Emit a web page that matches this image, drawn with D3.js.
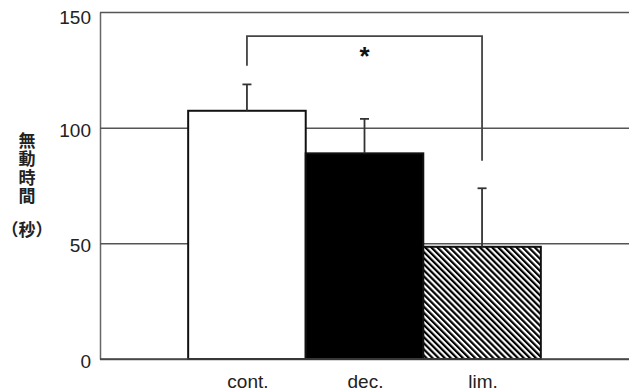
<!DOCTYPE html>
<html><head><meta charset="utf-8">
<script src="https://cdn.jsdelivr.net/npm/d3@7/dist/d3.min.js"></script>
<style>
html,body{margin:0;padding:0;background:#fff;}
svg{display:block;}
text{font-family:"Liberation Sans",Arial,sans-serif;}
</style></head>
<body>
<svg id="chart" width="629" height="391"></svg>
<script>
const categories = ["cont.", "dec.", "lim."];
const means = [107.3, 88.9, 48.5];
const errors = [11.4, 14.9, 25.3];
const yTicks = [0, 50, 100, 150];
const yTitle = "無動時間";
const yTitleUnit = "（秒）";
const bracket = {from: "cont.", to: "lim.", top: 139.6, leftEnd: 126.8, rightEnd: 85.7, label: "*"};

const svg = d3.select("#chart");
const margin = {left: 100, right: 0, top: 12, bottom: 32};
const W = 629, H = 391;

const x = d3.scaleBand().domain(categories).range([margin.left, W]).paddingInner(0).paddingOuter(0.75);
const y = d3.scaleLinear().domain([0, 150]).range([H - margin.bottom, margin.top]);

// hatch pattern
const defs = svg.append("defs");
const pat = defs.append("pattern").attr("id", "hatch").attr("patternUnits", "userSpaceOnUse")
  .attr("width", 4.3).attr("height", 10).attr("patternTransform", "rotate(-45)");
pat.append("rect").attr("width", 4.3).attr("height", 10).attr("fill", "#fff");
pat.append("line").attr("x1", 1.1).attr("x2", 1.1).attr("y1", 0).attr("y2", 10)
  .attr("stroke", "#000").attr("stroke-width", 2.2);

// axis + gridlines
const axis = d3.axisLeft(y).tickValues(yTicks).tickSizeInner(-(W - margin.left)).tickSizeOuter(0).tickPadding(9);
const g = svg.append("g").attr("transform", `translate(${margin.left},0)`).call(axis);
g.select(".domain").attr("stroke", "#666").attr("stroke-width", 1.5);
g.selectAll(".tick line").attr("stroke", "#555").attr("stroke-width", 1.5);
g.selectAll(".tick text").attr("font-size", 19).attr("fill", "#222")
  .attr("dy", d => d === 150 ? "0.62em" : "0.45em")
  .attr("font-family", "'Liberation Sans',Arial,sans-serif");

// bars
const fills = ["#fff", "#000", "url(#hatch)"];
svg.append("g").selectAll("rect").data(categories).join("rect")
  .attr("x", d => x(d))
  .attr("y", (d, i) => y(means[i]))
  .attr("width", x.bandwidth())
  .attr("height", (d, i) => y(0) - y(means[i]))
  .attr("fill", (d, i) => fills[i])
  .attr("stroke", "#111").attr("stroke-width", 2);

// baseline
svg.append("line").attr("x1", margin.left).attr("x2", W).attr("y1", y(0)).attr("y2", y(0))
  .attr("stroke", "#444").attr("stroke-width", 1.5);

// error bars
const eb = svg.append("g").attr("stroke", "#333").attr("stroke-width", 1.8);
categories.forEach((c, i) => {
  const cx = x(c) + x.bandwidth() / 2;
  eb.append("line").attr("x1", cx).attr("x2", cx).attr("y1", y(means[i])).attr("y2", y(means[i] + errors[i]));
  eb.append("line").attr("x1", cx - 4.5).attr("x2", cx + 4.5).attr("y1", y(means[i] + errors[i])).attr("y2", y(means[i] + errors[i]));
});

// significance bracket
const bx1 = x(bracket.from) + x.bandwidth() / 2;
const bx2 = x(bracket.to) + x.bandwidth() / 2;
svg.append("path")
  .attr("d", `M${bx1},${y(bracket.leftEnd)}V${y(bracket.top)}H${bx2}V${y(bracket.rightEnd)}`)
  .attr("fill", "none").attr("stroke", "#444").attr("stroke-width", 1.8);
svg.append("text").attr("x", (bx1 + bx2) / 2).attr("y", y(bracket.top) + 29)
  .attr("text-anchor", "middle").attr("font-size", 26).attr("font-weight", "bold").attr("fill", "#111")
  .text(bracket.label);

// x labels
svg.append("g").selectAll("text").data(categories).join("text")
  .attr("x", d => x(d) + x.bandwidth() / 2 + 1)
  .attr("y", 388)
  .attr("text-anchor", "middle").attr("font-size", 19).attr("fill", "#222")
  .text(d => d);

// y title (vertical)
svg.append("text")
  .attr("x", 27).attr("y", 132)
  .style("writing-mode", "vertical-rl")
  .style("font-family", "'Noto Sans CJK JP','Noto Sans CJK SC',sans-serif")
  .style("letter-spacing", "1.5px")
  .attr("font-weight", "bold").attr("font-size", 17).attr("fill", "#222")
  .text(yTitle);
svg.append("text").attr("x", 27).attr("y", 236).attr("text-anchor", "middle")
  .style("font-family", "'Noto Sans CJK JP','Noto Sans CJK SC',sans-serif")
  .attr("font-weight", "bold").attr("font-size", 17).attr("fill", "#222")
  .text(yTitleUnit);
</script>
</body></html>
